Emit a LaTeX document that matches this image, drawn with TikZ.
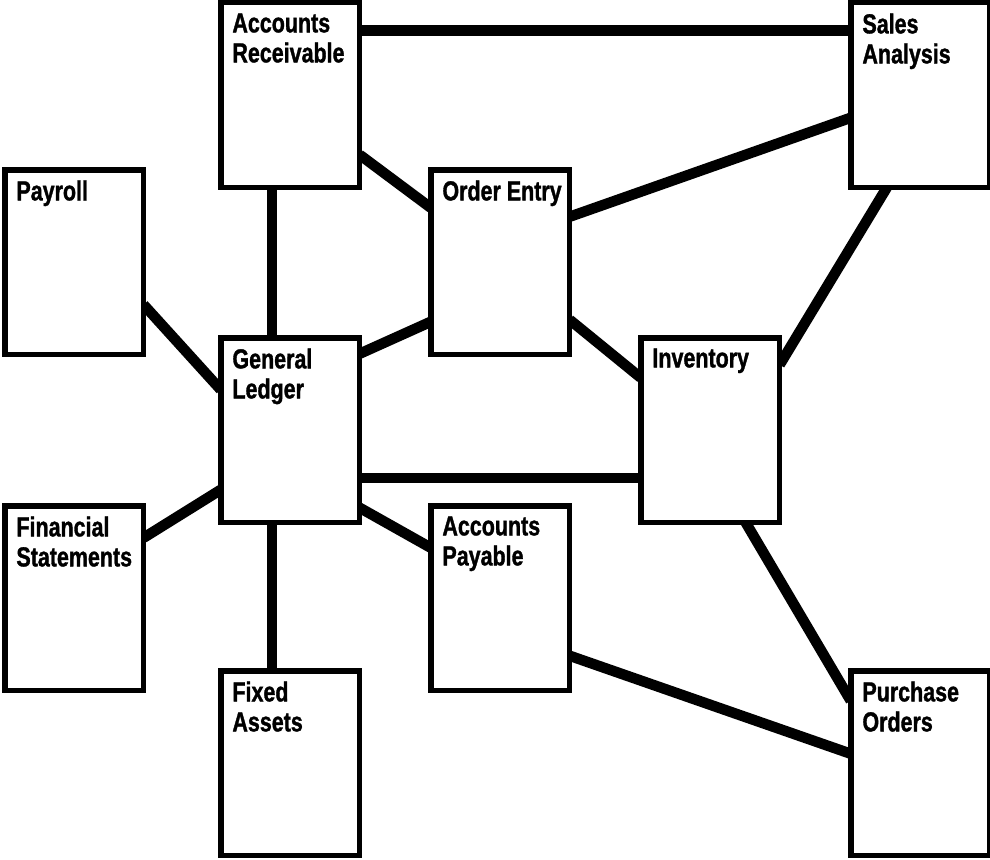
\documentclass[tikz,border=0pt]{standalone}
\usepackage{fontspec}
\newfontfamily\boxfont[FakeStretch=0.78,FakeBold=1.2]{Liberation Sans}
\begin{document}
\begin{tikzpicture}[x=1pt,y=-1pt,
  box/.style={rectangle, inner sep=0pt,
    minimum width=138.5pt, minimum height=184.5pt, anchor=north west},
  boxline/.style={draw=black, fill=white, line width=5.5pt},
  lbl/.style={anchor=north west, inner sep=0pt, align=left,
    font=\boxfont\bfseries\fontsize{27.5}{30}\selectfont},
  link/.style={draw=black, line width=10.5pt}]
\useasboundingbox (0,0) rectangle (990,859);
% box positions (outer top-left + half border)
\node[box] (ar) at (220.75,2.75) {};
\node[box] (sa) at (850.75,2.75) {};
\node[box] (pr) at (4.75,169.75) {};
\node[box] (oe) at (430.75,169.75) {};
\node[box] (gl) at (220.75,337.75) {};
\node[box] (inv) at (640.75,337.75) {};
\node[box] (fs) at (4.75,505.75) {};
\node[box] (ap) at (430.75,505.75) {};
\node[box] (fa) at (220.75,670.75) {};
\node[box] (po) at (850.75,670.75) {};
% connectors (drawn before the boxes)
\path[link] ([yshift=-28pt]ar.north east) -- ([yshift=-28pt]sa.north west);
\path[link] ([yshift=-152pt]ar.north east) -- ([yshift=-38pt]oe.north west);
\path[link] ([xshift=-18pt]ar.south) -- ([xshift=-18pt]gl.north);
\path[link] ([yshift=-135pt]pr.north east) -- ([yshift=-52pt]gl.north west);
\path[link] ([yshift=-32pt]fs.north east) -- ([yshift=-152pt]gl.north west);
\path[link] ([yshift=-16pt]gl.north east) -- ([yshift=-152pt]oe.north west);
\path[link] ([yshift=-140pt]gl.north east) -- ([yshift=-140pt]inv.north west);
\path[link] ([yshift=-170pt]gl.north east) -- ([yshift=-42pt]ap.north west);
\path[link] ([xshift=-18pt]gl.south) -- ([xshift=-18pt]fa.north);
\path[link] ([yshift=-47pt]oe.north east) -- ([yshift=-115pt]sa.north west);
\path[link] ([yshift=-150pt]oe.north east) -- ([yshift=-40pt]inv.north west);
\path[link] ([xshift=36pt]sa.south west) -- ([yshift=-27pt]inv.north east);
\path[link] ([xshift=105pt]inv.south west) -- ([yshift=-30pt]po.north west);
\path[link] ([yshift=-150pt]ap.north east) -- ([yshift=-83pt]po.north west);
% boxes on top
\foreach \n in {ar,sa,pr,oe,gl,inv,fs,ap,fa,po}{
  \path[boxline] (\n.north west) rectangle (\n.south east);
}
% labels
\node[lbl] (arT) at ([shift={(11.5pt,-10.5pt)}]ar.north west) {Accounts\\Receivable};
\node[lbl] (saT) at ([shift={(11.5pt,-10.5pt)}]sa.north west) {Sales\\Analysis};
\node[lbl] (prT) at ([shift={(11.5pt,-10.5pt)}]pr.north west) {Payroll};
\node[lbl] (oeT) at ([shift={(11.5pt,-10.5pt)}]oe.north west) {Order Entry};
\node[lbl] (glT) at ([shift={(11.5pt,-10.5pt)}]gl.north west) {General\\Ledger};
\node[lbl] (invT) at ([shift={(11.5pt,-10.5pt)}]inv.north west) {Inventory};
\node[lbl] (fsT) at ([shift={(11.5pt,-10.5pt)}]fs.north west) {Financial\\Statements};
\node[lbl] (apT) at ([shift={(11.5pt,-10.5pt)}]ap.north west) {Accounts\\Payable};
\node[lbl] (faT) at ([shift={(11.5pt,-10.5pt)}]fa.north west) {Fixed\\Assets};
\node[lbl] (poT) at ([shift={(11.5pt,-10.5pt)}]po.north west) {Purchase\\Orders};
\end{tikzpicture}
\end{document}
